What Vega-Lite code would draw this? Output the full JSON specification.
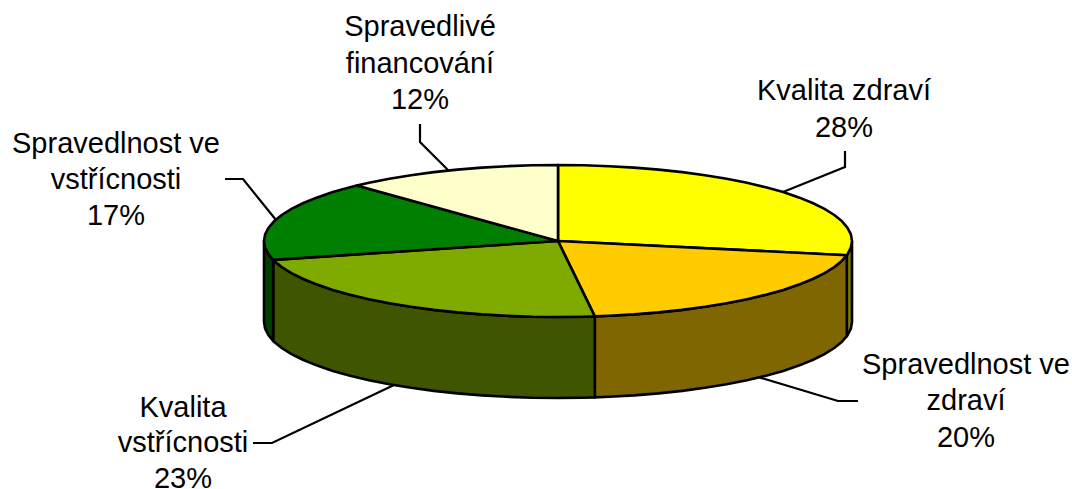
{"$schema":"https://vega.github.io/schema/vega-lite/v6.json","width":1072,"height":489,"padding":0,"autosize":"none","background":"white","config":{"view":{"stroke":null}},
"datasets":{
"walls":[
{"p":"w1","i":0,"x":852,"y":241},{"p":"w1","i":1,"x":850.9,"y":247.6},{"p":"w1","i":2,"x":847.5,"y":254.2},{"p":"w1","i":3,"x":846.8,"y":255.2},{"p":"w1","i":4,"x":846.8,"y":336.2},{"p":"w1","i":5,"x":847.5,"y":335.2},{"p":"w1","i":6,"x":850.9,"y":328.6},{"p":"w1","i":7,"x":852,"y":322},{"p":"w1","i":8,"x":852,"y":241},
{"p":"w2","i":0,"x":846.8,"y":255.2},{"p":"w2","i":1,"x":842,"y":260.7},{"p":"w2","i":2,"x":834.3,"y":267},{"p":"w2","i":3,"x":824.5,"y":273.1},{"p":"w2","i":4,"x":812.6,"y":279},{"p":"w2","i":5,"x":798.8,"y":284.6},{"p":"w2","i":6,"x":783.2,"y":289.9},{"p":"w2","i":7,"x":765.9,"y":294.7},{"p":"w2","i":8,"x":747,"y":299.2},{"p":"w2","i":9,"x":726.6,"y":303.3},{"p":"w2","i":10,"x":705,"y":306.8},{"p":"w2","i":11,"x":682.2,"y":309.9},{"p":"w2","i":12,"x":658.6,"y":312.4},{"p":"w2","i":13,"x":634.1,"y":314.4},{"p":"w2","i":14,"x":609.1,"y":315.8},{"p":"w2","i":15,"x":594.8,"y":316.4},{"p":"w2","i":16,"x":594.8,"y":397.4},{"p":"w2","i":17,"x":609.1,"y":396.8},{"p":"w2","i":18,"x":634.1,"y":395.4},{"p":"w2","i":19,"x":658.6,"y":393.4},{"p":"w2","i":20,"x":682.2,"y":390.9},{"p":"w2","i":21,"x":705,"y":387.8},{"p":"w2","i":22,"x":726.6,"y":384.3},{"p":"w2","i":23,"x":747,"y":380.2},{"p":"w2","i":24,"x":765.9,"y":375.7},{"p":"w2","i":25,"x":783.2,"y":370.9},{"p":"w2","i":26,"x":798.8,"y":365.6},{"p":"w2","i":27,"x":812.6,"y":360},{"p":"w2","i":28,"x":824.5,"y":354.1},{"p":"w2","i":29,"x":834.3,"y":348},{"p":"w2","i":30,"x":842,"y":341.7},{"p":"w2","i":31,"x":846.8,"y":336.2},{"p":"w2","i":32,"x":846.8,"y":255.2},
{"p":"w3","i":0,"x":594.8,"y":316.4},{"p":"w3","i":1,"x":583.6,"y":316.7},{"p":"w3","i":2,"x":558,"y":317},{"p":"w3","i":3,"x":532.4,"y":316.7},{"p":"w3","i":4,"x":506.9,"y":315.8},{"p":"w3","i":5,"x":481.9,"y":314.4},{"p":"w3","i":6,"x":457.4,"y":312.4},{"p":"w3","i":7,"x":433.8,"y":309.9},{"p":"w3","i":8,"x":411,"y":306.8},{"p":"w3","i":9,"x":389.4,"y":303.3},{"p":"w3","i":10,"x":369,"y":299.2},{"p":"w3","i":11,"x":350.1,"y":294.7},{"p":"w3","i":12,"x":332.8,"y":289.9},{"p":"w3","i":13,"x":317.2,"y":284.6},{"p":"w3","i":14,"x":303.4,"y":279},{"p":"w3","i":15,"x":291.5,"y":273.1},{"p":"w3","i":16,"x":281.7,"y":267},{"p":"w3","i":17,"x":274,"y":260.7},{"p":"w3","i":18,"x":273.2,"y":259.9},{"p":"w3","i":19,"x":273.2,"y":340.9},{"p":"w3","i":20,"x":274,"y":341.7},{"p":"w3","i":21,"x":281.7,"y":348},{"p":"w3","i":22,"x":291.5,"y":354.1},{"p":"w3","i":23,"x":303.4,"y":360},{"p":"w3","i":24,"x":317.2,"y":365.6},{"p":"w3","i":25,"x":332.8,"y":370.9},{"p":"w3","i":26,"x":350.1,"y":375.7},{"p":"w3","i":27,"x":369,"y":380.2},{"p":"w3","i":28,"x":389.4,"y":384.3},{"p":"w3","i":29,"x":411,"y":387.8},{"p":"w3","i":30,"x":433.8,"y":390.9},{"p":"w3","i":31,"x":457.4,"y":393.4},{"p":"w3","i":32,"x":481.9,"y":395.4},{"p":"w3","i":33,"x":506.9,"y":396.8},{"p":"w3","i":34,"x":532.4,"y":397.7},{"p":"w3","i":35,"x":558,"y":398},{"p":"w3","i":36,"x":583.6,"y":397.7},{"p":"w3","i":37,"x":594.8,"y":397.4},{"p":"w3","i":38,"x":594.8,"y":316.4},
{"p":"w4","i":0,"x":273.2,"y":259.9},{"p":"w4","i":1,"x":268.5,"y":254.2},{"p":"w4","i":2,"x":265.1,"y":247.6},{"p":"w4","i":3,"x":264,"y":241},{"p":"w4","i":4,"x":264,"y":322},{"p":"w4","i":5,"x":265.1,"y":328.6},{"p":"w4","i":6,"x":268.5,"y":335.2},{"p":"w4","i":7,"x":273.2,"y":340.9},{"p":"w4","i":8,"x":273.2,"y":259.9}
],
"tops":[
{"p":"t1","i":0,"x":558,"y":241},{"p":"t1","i":1,"x":558,"y":165},{"p":"t1","i":2,"x":583.6,"y":165.3},{"p":"t1","i":3,"x":609.1,"y":166.2},{"p":"t1","i":4,"x":634.1,"y":167.6},{"p":"t1","i":5,"x":658.6,"y":169.6},{"p":"t1","i":6,"x":682.2,"y":172.1},{"p":"t1","i":7,"x":705,"y":175.2},{"p":"t1","i":8,"x":726.6,"y":178.7},{"p":"t1","i":9,"x":747,"y":182.8},{"p":"t1","i":10,"x":765.9,"y":187.3},{"p":"t1","i":11,"x":783.2,"y":192.1},{"p":"t1","i":12,"x":798.8,"y":197.4},{"p":"t1","i":13,"x":812.6,"y":203},{"p":"t1","i":14,"x":824.5,"y":208.9},{"p":"t1","i":15,"x":834.3,"y":215},{"p":"t1","i":16,"x":842,"y":221.3},{"p":"t1","i":17,"x":847.5,"y":227.8},{"p":"t1","i":18,"x":850.9,"y":234.4},{"p":"t1","i":19,"x":852,"y":241},{"p":"t1","i":20,"x":850.9,"y":247.6},{"p":"t1","i":21,"x":847.5,"y":254.2},{"p":"t1","i":22,"x":846.8,"y":255.2},{"p":"t1","i":23,"x":558,"y":241},
{"p":"t2","i":0,"x":558,"y":241},{"p":"t2","i":1,"x":846.8,"y":255.2},{"p":"t2","i":2,"x":842,"y":260.7},{"p":"t2","i":3,"x":834.3,"y":267},{"p":"t2","i":4,"x":824.5,"y":273.1},{"p":"t2","i":5,"x":812.6,"y":279},{"p":"t2","i":6,"x":798.8,"y":284.6},{"p":"t2","i":7,"x":783.2,"y":289.9},{"p":"t2","i":8,"x":765.9,"y":294.7},{"p":"t2","i":9,"x":747,"y":299.2},{"p":"t2","i":10,"x":726.6,"y":303.3},{"p":"t2","i":11,"x":705,"y":306.8},{"p":"t2","i":12,"x":682.2,"y":309.9},{"p":"t2","i":13,"x":658.6,"y":312.4},{"p":"t2","i":14,"x":634.1,"y":314.4},{"p":"t2","i":15,"x":609.1,"y":315.8},{"p":"t2","i":16,"x":594.8,"y":316.4},{"p":"t2","i":17,"x":558,"y":241},
{"p":"t3","i":0,"x":558,"y":241},{"p":"t3","i":1,"x":594.8,"y":316.4},{"p":"t3","i":2,"x":583.6,"y":316.7},{"p":"t3","i":3,"x":558,"y":317},{"p":"t3","i":4,"x":532.4,"y":316.7},{"p":"t3","i":5,"x":506.9,"y":315.8},{"p":"t3","i":6,"x":481.9,"y":314.4},{"p":"t3","i":7,"x":457.4,"y":312.4},{"p":"t3","i":8,"x":433.8,"y":309.9},{"p":"t3","i":9,"x":411,"y":306.8},{"p":"t3","i":10,"x":389.4,"y":303.3},{"p":"t3","i":11,"x":369,"y":299.2},{"p":"t3","i":12,"x":350.1,"y":294.7},{"p":"t3","i":13,"x":332.8,"y":289.9},{"p":"t3","i":14,"x":317.2,"y":284.6},{"p":"t3","i":15,"x":303.4,"y":279},{"p":"t3","i":16,"x":291.5,"y":273.1},{"p":"t3","i":17,"x":281.7,"y":267},{"p":"t3","i":18,"x":274,"y":260.7},{"p":"t3","i":19,"x":273.2,"y":259.9},{"p":"t3","i":20,"x":558,"y":241},
{"p":"t4","i":0,"x":558,"y":241},{"p":"t4","i":1,"x":273.2,"y":259.9},{"p":"t4","i":2,"x":268.5,"y":254.2},{"p":"t4","i":3,"x":265.1,"y":247.6},{"p":"t4","i":4,"x":264,"y":241},{"p":"t4","i":5,"x":265.1,"y":234.4},{"p":"t4","i":6,"x":268.5,"y":227.8},{"p":"t4","i":7,"x":274,"y":221.3},{"p":"t4","i":8,"x":281.7,"y":215},{"p":"t4","i":9,"x":291.5,"y":208.9},{"p":"t4","i":10,"x":303.4,"y":203},{"p":"t4","i":11,"x":317.2,"y":197.4},{"p":"t4","i":12,"x":332.8,"y":192.1},{"p":"t4","i":13,"x":350.1,"y":187.3},{"p":"t4","i":14,"x":356.8,"y":185.6},{"p":"t4","i":15,"x":558,"y":241},
{"p":"t5","i":0,"x":558,"y":241},{"p":"t5","i":1,"x":356.8,"y":185.6},{"p":"t5","i":2,"x":369,"y":182.8},{"p":"t5","i":3,"x":389.4,"y":178.7},{"p":"t5","i":4,"x":411,"y":175.2},{"p":"t5","i":5,"x":433.8,"y":172.1},{"p":"t5","i":6,"x":457.4,"y":169.6},{"p":"t5","i":7,"x":481.9,"y":167.6},{"p":"t5","i":8,"x":506.9,"y":166.2},{"p":"t5","i":9,"x":532.4,"y":165.3},{"p":"t5","i":10,"x":558,"y":165},{"p":"t5","i":11,"x":558,"y":241}
],
"leaders":[
{"p":"a","i":0,"x":845,"y":151},{"p":"a","i":1,"x":845,"y":167},{"p":"a","i":2,"x":783,"y":192},
{"p":"b","i":0,"x":858,"y":401},{"p":"b","i":1,"x":838,"y":401},{"p":"b","i":2,"x":758,"y":377},
{"p":"c","i":0,"x":253,"y":443},{"p":"c","i":1,"x":272,"y":443},{"p":"c","i":2,"x":394,"y":385},
{"p":"d","i":0,"x":225,"y":179},{"p":"d","i":1,"x":243,"y":179},{"p":"d","i":2,"x":276,"y":220},
{"p":"e","i":0,"x":420,"y":124},{"p":"e","i":1,"x":420,"y":142},{"p":"e","i":2,"x":448,"y":170}
],
"labels":[
{"t":"Spravedlivé","x":420,"y":36},{"t":"financování","x":420,"y":73},{"t":"12%","x":420,"y":109},
{"t":"Kvalita zdraví","x":844,"y":100},{"t":"28%","x":844,"y":137},
{"t":"Spravedlnost ve","x":116,"y":153},{"t":"vstřícnosti","x":116,"y":189},{"t":"17%","x":116,"y":225},
{"t":"Spravedlnost ve","x":966,"y":374},{"t":"zdraví","x":966,"y":410},{"t":"20%","x":966,"y":447},
{"t":"Kvalita","x":183,"y":417},{"t":"vstřícnosti","x":183,"y":452},{"t":"23%","x":183,"y":488}
]},
"encoding":{
"x":{"field":"x","type":"quantitative","scale":{"domain":[0,1072],"nice":false,"zero":false},"axis":null},
"y":{"field":"y","type":"quantitative","scale":{"domain":[489,0],"nice":false,"zero":false},"axis":null}
},
"layer":[
{"data":{"name":"walls"},"mark":{"type":"line","filled":true,"stroke":"black","strokeWidth":2.6,"strokeJoin":"round"},
"encoding":{"detail":{"field":"p"},"order":{"field":"i","type":"quantitative"},"color":{"field":"p","type":"nominal","legend":null,"scale":{"domain":["w1","w2","w3","w4","t1","t2","t3","t4","t5"],"range":["#7F7F00","#7F6600","#3F5500","#003F00","#FFFF00","#FFCC00","#7FAA00","#007F00","#FFFFCC"]}}}},
{"data":{"name":"tops"},"mark":{"type":"line","filled":true,"stroke":"black","strokeWidth":2.6,"strokeJoin":"round"},
"encoding":{"detail":{"field":"p"},"order":{"field":"i","type":"quantitative"},"color":{"field":"p","type":"nominal","legend":null,"scale":{"domain":["w1","w2","w3","w4","t1","t2","t3","t4","t5"],"range":["#7F7F00","#7F6600","#3F5500","#003F00","#FFFF00","#FFCC00","#7FAA00","#007F00","#FFFFCC"]}}}},
{"data":{"name":"leaders"},"mark":{"type":"line","color":"black","strokeWidth":2.2},
"encoding":{"detail":{"field":"p"},"order":{"field":"i","type":"quantitative"}}},
{"data":{"name":"labels"},"mark":{"type":"text","font":"Liberation Sans","fontSize":29,"align":"center","baseline":"alphabetic","color":"black","clip":false},
"encoding":{"text":{"field":"t"}}}
]}
